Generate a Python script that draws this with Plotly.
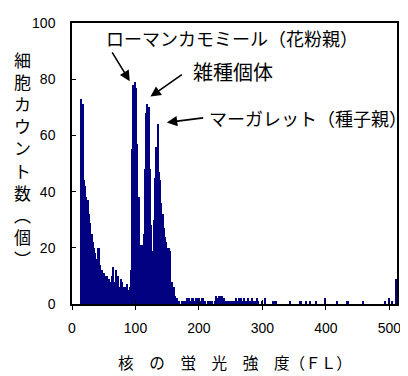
import plotly.graph_objects as go

# FL channel bins (width 2), start values 0..510
bin_width = 2
bin_starts = list(range(0, 512, 2))

# counts, FL 0-92
counts_low = [0, 0, 0, 0, 0, 0, 0, 73, 71, 44, 42, 38, 37, 32, 29, 25, 22,
              20, 18, 16, 20, 20, 14, 12, 11, 11, 10,
              10, 9, 9, 8, 10, 13, 8, 12, 7, 10,
              6, 9, 8, 6, 6, 5, 7, 5, 6, 12]
# counts, FL 94-158 (three peaks)
counts_peaks = [55, 78, 79, 77, 57, 38, 21, 17, 21, 25, 48, 68, 71, 70, 48,
                28, 19, 30, 45, 56, 64, 47, 44, 36, 32, 27, 24, 22, 20, 20,
                19, 8, 3]
# counts, FL 160-510 (tail)
counts_tail = ([6, 3, 2, 1, 1, 0, 1, 1, 0, 1]
               + [2, 1, 2, 1, 2, 2, 1, 2, 2, 1]
               + [2, 1, 2, 2, 1, 0, 0, 1, 1, 1]
               + [1, 0, 1, 3, 2, 3, 3, 2, 3, 2]
               + [1, 1, 1, 1, 1, 1, 1, 1, 1, 2]
               + [1, 2, 1, 2, 1, 2, 1, 1, 2, 1]
               + [1, 2, 1, 0, 1, 2, 1, 0, 0, 1]
               + [0, 0, 2, 0, 0, 0, 0, 0, 1, 1]
               + [1, 0, 0, 0, 0, 0, 0, 0, 0, 0]
               + [0, 1, 0, 0, 0, 0, 0, 0, 0, 1]
               + [1, 0, 0, 0, 1, 0, 0, 1, 0, 0]
               + [0, 0, 1, 0, 0, 0, 0, 0, 0, 2]
               + [0, 0, 0, 0, 0, 0, 0, 0, 1, 0]
               + [0, 0, 0, 0, 0, 0, 1, 1, 0, 0]
               + [0, 0, 0, 0, 0, 0, 0, 0, 0, 1]
               + [0, 0, 0, 0, 0, 0, 0, 0, 0, 0]
               + [0, 0, 0, 0, 0, 0, 1, 0, 0, 2]
               + [0, 0, 1, 0, 0, 9])
counts = counts_low + counts_peaks + counts_tail

x_ticks = [0, 100, 200, 300, 400, 500]
y_ticks = [0, 20, 40, 60, 80, 100]

x_title = "核　の　蛍　光　強　度（ＦＬ）"
y_title_chars = ["細", "胞", "カ", "ウ", "ン", "ト", "数", "︵", "個", "︶"]

labels = ["ローマンカモミール（花粉親）", "雑種個体", "マーガレット（種子親）"]
label_pos = [(50, 94.8), (187, 82.6), (213, 66.3)]
arrow_heads = [(91, 79.3), (123.6, 73.8), (149.4, 64.6)]
arrow_tails = [(61.8, 90.1), (175.4, 82.0), (209, 66.3)]
label_sizes = [18, 20, 18]

centers = [s + bin_width / 2 for s in bin_starts]

fig = go.Figure()
fig.add_trace(go.Bar(x=centers, y=counts, width=bin_width,
                     marker=dict(color="#000080", line=dict(width=0)),
                     hoverinfo="skip"))

cjk = "Noto Sans CJK JP"
num_font = dict(family="Liberation Sans, Arial", size=14, color="black")

# page body has an 8px default margin, so the figure is 8px smaller
fig.update_layout(
    width=400, height=368,
    margin=dict(l=64, r=7, t=8, b=72),
    paper_bgcolor="white", plot_bgcolor="white",
    bargap=0, showlegend=False,
    xaxis=dict(range=[0, 512], tickvals=x_ticks, ticks="outside", ticklen=4,
               tickcolor="black", tickwidth=1, showline=True, linecolor="black",
               linewidth=1.5, mirror=True, showgrid=False, zeroline=False,
               tickfont=num_font, ticklabelstandoff=6),
    xaxis2=dict(overlaying="x", matches="x", tickvals=x_ticks, ticks="inside",
                ticklen=4, tickcolor="black", showticklabels=False,
                showline=False, showgrid=False, zeroline=False),
    yaxis=dict(range=[0, 100], tickvals=y_ticks, ticks="inside", ticklen=4,
               tickcolor="black", showline=True, linecolor="black",
               linewidth=1.5, mirror=True, showgrid=False, zeroline=False,
               tickfont=num_font, ticklabelstandoff=12),
)

# invisible trace to render the crossing-tick overlay axis
fig.add_trace(go.Scatter(x=[0], y=[0], xaxis="x2", mode="markers",
                         marker=dict(opacity=0), hoverinfo="skip"))

for (hx, hy), (tx, ty) in zip(arrow_heads, arrow_tails):
    fig.add_annotation(x=hx, y=hy, ax=tx, ay=ty, axref="x", ayref="y",
                       xref="x", yref="y", text="", showarrow=True,
                       arrowhead=2, arrowsize=1.3, arrowwidth=1.6,
                       arrowcolor="black", standoff=0, startstandoff=0)

for txt, (lx, ly), sz in zip(labels, label_pos, label_sizes):
    fig.add_annotation(x=lx, y=ly, xref="x", yref="y", text=txt,
                       showarrow=False, xanchor="left", yanchor="middle",
                       font=dict(family=cjk, size=sz, color="black"))

fig.add_annotation(x=0.5, y=-0.208, xref="paper", yref="paper", text=x_title,
                   showarrow=False, xanchor="center", yanchor="middle",
                   font=dict(family=cjk, size=15.6, color="black"))

fig.add_annotation(x=-0.153, y=0.517, xref="paper", yref="paper",
                   text="<br>".join(y_title_chars), showarrow=False,
                   xanchor="center", yanchor="middle",
                   font=dict(family=cjk, size=17, color="black"))

fig.write_html("out.html")
